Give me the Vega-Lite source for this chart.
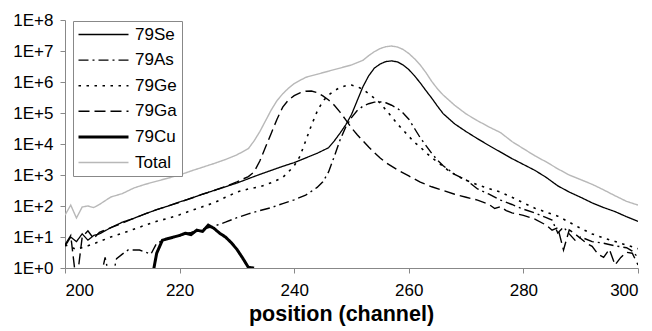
{
  "$schema": "https://vega.github.io/schema/vega-lite/v6.json",
  "width": 573,
  "height": 248,
  "autosize": "none",
  "padding": {"left": 65, "top": 20, "right": 14, "bottom": 63},
  "background": "white",
  "config": {"view": {"stroke": null}, "font": "Liberation Sans"},
  "data": {"values": [
    {"s":"79Se","x":200,"y":5.0},{"s":"79Se","x":201,"y":10},{"s":"79Se","x":202,"y":7.1},{"s":"79Se","x":203,"y":12.6},{"s":"79Se","x":204,"y":7.9},{"s":"79Se","x":205,"y":11.2},{"s":"79Se","x":206,"y":12.6},{"s":"79Se","x":208,"y":20},{"s":"79Se","x":210,"y":30},{"s":"79Se","x":212,"y":40},{"s":"79Se","x":214,"y":56},{"s":"79Se","x":216,"y":76},{"s":"79Se","x":218,"y":100},{"s":"79Se","x":220,"y":135},{"s":"79Se","x":222,"y":178},{"s":"79Se","x":224,"y":240},{"s":"79Se","x":226,"y":316},{"s":"79Se","x":228,"y":417},{"s":"79Se","x":230,"y":550},{"s":"79Se","x":232,"y":759},{"s":"79Se","x":234,"y":1047},{"s":"79Se","x":236,"y":1413},{"s":"79Se","x":238,"y":1905},{"s":"79Se","x":240,"y":2512},{"s":"79Se","x":242,"y":3548},{"s":"79Se","x":244,"y":5012},{"s":"79Se","x":246,"y":7586},{"s":"79Se","x":247,"y":12590},{"s":"79Se","x":248,"y":22390},{"s":"79Se","x":249,"y":41690},{"s":"79Se","x":250,"y":89130},{"s":"79Se","x":251,"y":251200},{"s":"79Se","x":252,"y":707900},{"s":"79Se","x":253,"y":1585000},{"s":"79Se","x":254,"y":2818000},{"s":"79Se","x":255,"y":3802000},{"s":"79Se","x":256,"y":4571000},{"s":"79Se","x":257,"y":4786000},{"s":"79Se","x":258,"y":4467000},{"s":"79Se","x":259,"y":3548000},{"s":"79Se","x":260,"y":2512000},{"s":"79Se","x":261,"y":1585000},{"s":"79Se","x":262,"y":933300},{"s":"79Se","x":263,"y":524800},{"s":"79Se","x":264,"y":302000},{"s":"79Se","x":265,"y":166000},{"s":"79Se","x":266,"y":95500},{"s":"79Se","x":268,"y":44670},{"s":"79Se","x":270,"y":25120},{"s":"79Se","x":272,"y":14790},{"s":"79Se","x":274,"y":8913},{"s":"79Se","x":276,"y":5495},{"s":"79Se","x":278,"y":3388},{"s":"79Se","x":280,"y":2188},{"s":"79Se","x":282,"y":1413},{"s":"79Se","x":284,"y":832},{"s":"79Se","x":286,"y":447},{"s":"79Se","x":288,"y":282},{"s":"79Se","x":290,"y":191},{"s":"79Se","x":292,"y":126},{"s":"79Se","x":294,"y":89},{"s":"79Se","x":296,"y":66},{"s":"79Se","x":298,"y":45},{"s":"79Se","x":300,"y":32},

    {"s":"79As","x":206,"y":0.3},{"s":"79As","x":207,"y":2.2},{"s":"79As","x":208,"y":0.3},{"s":"79As","x":209,"y":2.0},{"s":"79As","x":210,"y":2.8},{"s":"79As","x":211,"y":3.8},{"s":"79As","x":213,"y":3.8},{"s":"79As","x":215,"y":2.8},{"s":"79As","x":216,"y":6.3},{"s":"79As","x":218,"y":8.9},{"s":"79As","x":220,"y":11.5},{"s":"79As","x":222,"y":14.1},{"s":"79As","x":224,"y":17.8},{"s":"79As","x":226,"y":22.4},{"s":"79As","x":228,"y":30},{"s":"79As","x":230,"y":42},{"s":"79As","x":232,"y":56},{"s":"79As","x":234,"y":71},{"s":"79As","x":236,"y":89},{"s":"79As","x":238,"y":120},{"s":"79As","x":240,"y":158},{"s":"79As","x":242,"y":224},{"s":"79As","x":244,"y":398},{"s":"79As","x":245,"y":603},{"s":"79As","x":246,"y":1259},{"s":"79As","x":247,"y":3981},{"s":"79As","x":248,"y":13490},{"s":"79As","x":249,"y":35480},{"s":"79As","x":250,"y":70790},{"s":"79As","x":251,"y":120200},{"s":"79As","x":252,"y":166000},{"s":"79As","x":253,"y":199500},{"s":"79As","x":254,"y":223900},{"s":"79As","x":255,"y":229100},{"s":"79As","x":256,"y":213800},{"s":"79As","x":257,"y":177800},{"s":"79As","x":258,"y":141300},{"s":"79As","x":259,"y":100000},{"s":"79As","x":260,"y":63100},{"s":"79As","x":261,"y":31620},{"s":"79As","x":262,"y":15850},{"s":"79As","x":263,"y":8913},{"s":"79As","x":264,"y":5012},{"s":"79As","x":265,"y":3020},{"s":"79As","x":266,"y":1995},{"s":"79As","x":268,"y":1047},{"s":"79As","x":270,"y":692},{"s":"79As","x":272,"y":355},{"s":"79As","x":274,"y":240},{"s":"79As","x":276,"y":155},{"s":"79As","x":278,"y":112},{"s":"79As","x":280,"y":79},{"s":"79As","x":282,"y":60},{"s":"79As","x":284,"y":42},{"s":"79As","x":285,"y":35},{"s":"79As","x":286,"y":13.5},{"s":"79As","x":287,"y":21},{"s":"79As","x":288,"y":12.6},{"s":"79As","x":289,"y":7.9},{"s":"79As","x":290,"y":10},{"s":"79As","x":292,"y":7.1},{"s":"79As","x":294,"y":6.3},{"s":"79As","x":296,"y":5.2},{"s":"79As","x":298,"y":4.5},{"s":"79As","x":299,"y":3.5},{"s":"79As","x":300,"y":2.2},

    {"s":"79Ge","x":200,"y":5.6},{"s":"79Ge","x":202,"y":4.0},{"s":"79Ge","x":204,"y":5.2},{"s":"79Ge","x":206,"y":7.1},{"s":"79Ge","x":208,"y":10},{"s":"79Ge","x":210,"y":13.2},{"s":"79Ge","x":212,"y":17.8},{"s":"79Ge","x":214,"y":24},{"s":"79Ge","x":216,"y":32},{"s":"79Ge","x":218,"y":40},{"s":"79Ge","x":220,"y":52},{"s":"79Ge","x":222,"y":71},{"s":"79Ge","x":224,"y":95},{"s":"79Ge","x":226,"y":126},{"s":"79Ge","x":228,"y":191},{"s":"79Ge","x":230,"y":282},{"s":"79Ge","x":232,"y":355},{"s":"79Ge","x":234,"y":417},{"s":"79Ge","x":236,"y":562},{"s":"79Ge","x":238,"y":832},{"s":"79Ge","x":239,"y":1259},{"s":"79Ge","x":240,"y":1995},{"s":"79Ge","x":241,"y":3981},{"s":"79Ge","x":242,"y":12590},{"s":"79Ge","x":243,"y":39810},{"s":"79Ge","x":244,"y":112200},{"s":"79Ge","x":245,"y":239900},{"s":"79Ge","x":246,"y":380200},{"s":"79Ge","x":247,"y":524800},{"s":"79Ge","x":248,"y":660700},{"s":"79Ge","x":249,"y":758600},{"s":"79Ge","x":250,"y":794300},{"s":"79Ge","x":251,"y":707900},{"s":"79Ge","x":252,"y":575400},{"s":"79Ge","x":253,"y":416900},{"s":"79Ge","x":254,"y":302000},{"s":"79Ge","x":255,"y":208900},{"s":"79Ge","x":256,"y":125900},{"s":"79Ge","x":257,"y":75860},{"s":"79Ge","x":258,"y":44670},{"s":"79Ge","x":259,"y":28180},{"s":"79Ge","x":260,"y":17780},{"s":"79Ge","x":261,"y":11220},{"s":"79Ge","x":262,"y":7943},{"s":"79Ge","x":263,"y":5248},{"s":"79Ge","x":264,"y":3631},{"s":"79Ge","x":265,"y":2630},{"s":"79Ge","x":266,"y":1905},{"s":"79Ge","x":267,"y":1349},{"s":"79Ge","x":268,"y":1047},{"s":"79Ge","x":269,"y":832},{"s":"79Ge","x":270,"y":676},{"s":"79Ge","x":272,"y":479},{"s":"79Ge","x":274,"y":363},{"s":"79Ge","x":276,"y":282},{"s":"79Ge","x":278,"y":191},{"s":"79Ge","x":280,"y":126},{"s":"79Ge","x":282,"y":85},{"s":"79Ge","x":284,"y":63},{"s":"79Ge","x":286,"y":47},{"s":"79Ge","x":288,"y":30},{"s":"79Ge","x":290,"y":19},{"s":"79Ge","x":292,"y":12.6},{"s":"79Ge","x":294,"y":9.3},{"s":"79Ge","x":296,"y":7.2},{"s":"79Ge","x":298,"y":5.5},{"s":"79Ge","x":300,"y":4.2},

    {"s":"79Ga","x":200,"y":5.6},{"s":"79Ga","x":201,"y":11.2},{"s":"79Ga","x":202,"y":0.3},{"s":"79Ga","x":203,"y":10},{"s":"79Ga","x":204,"y":15.8},{"s":"79Ga","x":205,"y":8.9},{"s":"79Ga","x":206,"y":14.1},{"s":"79Ga","x":208,"y":20},{"s":"79Ga","x":210,"y":28},{"s":"79Ga","x":212,"y":40},{"s":"79Ga","x":214,"y":56},{"s":"79Ga","x":216,"y":76},{"s":"79Ga","x":218,"y":100},{"s":"79Ga","x":220,"y":132},{"s":"79Ga","x":222,"y":178},{"s":"79Ga","x":224,"y":240},{"s":"79Ga","x":226,"y":316},{"s":"79Ga","x":228,"y":427},{"s":"79Ga","x":230,"y":603},{"s":"79Ga","x":232,"y":891},{"s":"79Ga","x":233,"y":1259},{"s":"79Ga","x":234,"y":2818},{"s":"79Ga","x":235,"y":7943},{"s":"79Ga","x":236,"y":22390},{"s":"79Ga","x":237,"y":63100},{"s":"79Ga","x":238,"y":154900},{"s":"79Ga","x":239,"y":263000},{"s":"79Ga","x":240,"y":363100},{"s":"79Ga","x":241,"y":446700},{"s":"79Ga","x":242,"y":501200},{"s":"79Ga","x":243,"y":512900},{"s":"79Ga","x":244,"y":457100},{"s":"79Ga","x":245,"y":354800},{"s":"79Ga","x":246,"y":263000},{"s":"79Ga","x":247,"y":177800},{"s":"79Ga","x":248,"y":107200},{"s":"79Ga","x":249,"y":60260},{"s":"79Ga","x":250,"y":33110},{"s":"79Ga","x":251,"y":19950},{"s":"79Ga","x":252,"y":12590},{"s":"79Ga","x":253,"y":7943},{"s":"79Ga","x":254,"y":5248},{"s":"79Ga","x":255,"y":3548},{"s":"79Ga","x":256,"y":2512},{"s":"79Ga","x":258,"y":1479},{"s":"79Ga","x":260,"y":933},{"s":"79Ga","x":262,"y":589},{"s":"79Ga","x":264,"y":417},{"s":"79Ga","x":266,"y":316},{"s":"79Ga","x":268,"y":240},{"s":"79Ga","x":270,"y":191},{"s":"79Ga","x":272,"y":155},{"s":"79Ga","x":274,"y":112},{"s":"79Ga","x":275,"y":83},{"s":"79Ga","x":276,"y":95},{"s":"79Ga","x":277,"y":71},{"s":"79Ga","x":278,"y":60},{"s":"79Ga","x":280,"y":50},{"s":"79Ga","x":282,"y":38},{"s":"79Ga","x":284,"y":24},{"s":"79Ga","x":285,"y":16.6},{"s":"79Ga","x":286,"y":20},{"s":"79Ga","x":287,"y":3.8},{"s":"79Ga","x":288,"y":17},{"s":"79Ga","x":289,"y":12.6},{"s":"79Ga","x":290,"y":8.9},{"s":"79Ga","x":291,"y":6.3},{"s":"79Ga","x":292,"y":5.0},{"s":"79Ga","x":293,"y":2.8},{"s":"79Ga","x":294,"y":2.2},{"s":"79Ga","x":295,"y":4.0},{"s":"79Ga","x":296,"y":1.26},{"s":"79Ga","x":297,"y":2.2},{"s":"79Ga","x":298,"y":3.2},{"s":"79Ga","x":299,"y":3.0},{"s":"79Ga","x":300,"y":1.26},

    {"s":"79Cu","x":215,"y":0.3},{"s":"79Cu","x":216,"y":3.0},{"s":"79Cu","x":217,"y":7.9},{"s":"79Cu","x":218,"y":8.9},{"s":"79Cu","x":219,"y":10},{"s":"79Cu","x":220,"y":11.2},{"s":"79Cu","x":221,"y":13.2},{"s":"79Cu","x":222,"y":12},{"s":"79Cu","x":223,"y":16.6},{"s":"79Cu","x":224,"y":15.1},{"s":"79Cu","x":225,"y":24},{"s":"79Cu","x":226,"y":19},{"s":"79Cu","x":227,"y":13.2},{"s":"79Cu","x":228,"y":10},{"s":"79Cu","x":229,"y":6.6},{"s":"79Cu","x":230,"y":4.0},{"s":"79Cu","x":231,"y":2.1},{"s":"79Cu","x":232,"y":1.05},{"s":"79Cu","x":233,"y":1.0},

    {"s":"Total","x":200,"y":51},{"s":"Total","x":201,"y":107},{"s":"Total","x":202,"y":41},{"s":"Total","x":203,"y":93},{"s":"Total","x":204,"y":100},{"s":"Total","x":205,"y":89},{"s":"Total","x":206,"y":112},{"s":"Total","x":208,"y":195},{"s":"Total","x":210,"y":251},{"s":"Total","x":212,"y":380},{"s":"Total","x":214,"y":501},{"s":"Total","x":216,"y":631},{"s":"Total","x":218,"y":794},{"s":"Total","x":220,"y":1000},{"s":"Total","x":222,"y":1349},{"s":"Total","x":224,"y":1778},{"s":"Total","x":226,"y":2344},{"s":"Total","x":228,"y":3162},{"s":"Total","x":230,"y":4467},{"s":"Total","x":232,"y":7079},{"s":"Total","x":233,"y":12590},{"s":"Total","x":234,"y":25120},{"s":"Total","x":235,"y":56230},{"s":"Total","x":236,"y":125900},{"s":"Total","x":237,"y":251200},{"s":"Total","x":238,"y":416900},{"s":"Total","x":239,"y":631000},{"s":"Total","x":240,"y":891300},{"s":"Total","x":242,"y":1413000},{"s":"Total","x":244,"y":1778000},{"s":"Total","x":246,"y":2239000},{"s":"Total","x":248,"y":2818000},{"s":"Total","x":250,"y":3548000},{"s":"Total","x":252,"y":5012000},{"s":"Total","x":253,"y":7079000},{"s":"Total","x":254,"y":9550000},{"s":"Total","x":255,"y":12020000},{"s":"Total","x":256,"y":13800000},{"s":"Total","x":257,"y":14450000},{"s":"Total","x":258,"y":13490000},{"s":"Total","x":259,"y":11220000},{"s":"Total","x":260,"y":8318000},{"s":"Total","x":261,"y":5623000},{"s":"Total","x":262,"y":3548000},{"s":"Total","x":263,"y":1995000},{"s":"Total","x":264,"y":1047000},{"s":"Total","x":265,"y":602600},{"s":"Total","x":266,"y":380200},{"s":"Total","x":268,"y":177800},{"s":"Total","x":270,"y":93330},{"s":"Total","x":272,"y":56230},{"s":"Total","x":274,"y":35480},{"s":"Total","x":276,"y":23440},{"s":"Total","x":278,"y":12020},{"s":"Total","x":280,"y":7079},{"s":"Total","x":282,"y":4169},{"s":"Total","x":284,"y":2630},{"s":"Total","x":286,"y":1585},{"s":"Total","x":288,"y":1000},{"s":"Total","x":290,"y":708},{"s":"Total","x":292,"y":501},{"s":"Total","x":294,"y":331},{"s":"Total","x":296,"y":214},{"s":"Total","x":298,"y":141},{"s":"Total","x":300,"y":107}
  ]},
  "mark": {"type": "line", "clip": true},
  "encoding": {
    "x": {"field": "x", "type": "quantitative",
      "scale": {"domain": [200, 300], "nice": false, "zero": false},
      "axis": {"values": [200, 220, 240, 260, 280, 300], "title": "position (channel)", "grid": false,
        "domainColor": "#888", "tickColor": "#888", "tickSize": 5, "labelFontSize": 17, "labelColor": "#000",
        "labelPadding": 9, "titleFontSize": 21.5, "titleFontWeight": "bold", "titleColor": "#000", "titlePadding": 5, "titleX": 276}},
    "y": {"field": "y", "type": "quantitative",
      "scale": {"type": "log", "domain": [1, 100000000], "nice": false},
      "axis": {"values": [1, 10, 100, 1000, 10000, 100000, 1000000, 10000000, 100000000],
        "labelExpr": "'1E+' + round(log(datum.value)/LN10)", "title": null, "grid": false,
        "domainColor": "#888", "tickColor": "#888", "tickSize": 5, "labelFontSize": 17, "labelColor": "#000", "labelPadding": 7}},
    "color": {"field": "s", "type": "nominal",
      "scale": {"domain": ["79Se", "79As", "79Ge", "79Ga", "79Cu", "Total"], "range": ["#000000", "#000000", "#000000", "#000000", "#000000", "#b8b8b8"]},
      "legend": {"title": null, "orient": "none", "legendX": 8, "legendY": 1, "symbolType": "M-1.6,0H8.4", "symbolSize": 100,
        "labelFontSize": 17, "labelColor": "#000", "strokeColor": "#888", "fillColor": "white", "padding": 5, "rowPadding": 7.6, "labelOffset": 40}},
    "strokeDash": {"field": "s", "type": "nominal",
      "scale": {"domain": ["79Se", "79As", "79Ge", "79Ga", "79Cu", "Total"], "range": [[1, 0], [10, 4, 2, 4], [2.5, 5.5], [11, 5], [1, 0], [1, 0]]}},
    "strokeWidth": {"field": "s", "type": "nominal",
      "scale": {"type": "ordinal", "domain": ["79Se", "79As", "79Ge", "79Ga", "79Cu", "Total"], "range": [1.3, 1.4, 1.6, 1.4, 3, 1.4]}}
  }
}
